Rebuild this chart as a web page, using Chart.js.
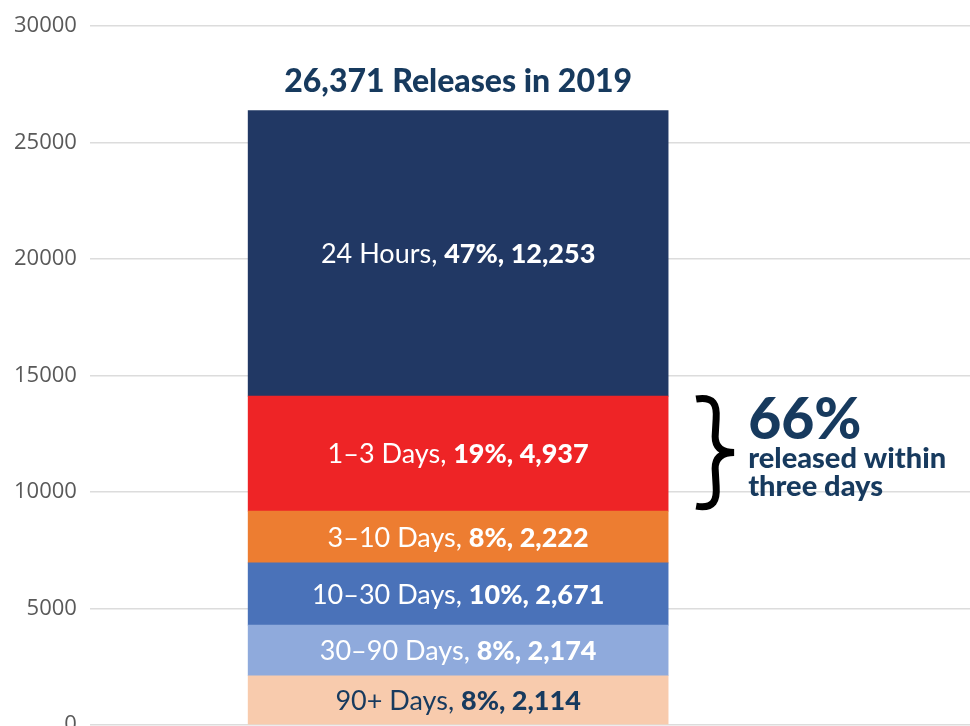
<!DOCTYPE html>
<html lang="en">
<head>
    <meta charset="UTF-8">
    <title>Releases in 2019</title>
    <script src="https://cdn.jsdelivr.net/npm/chart.js"></script>
    <style>
        html, body { margin: 0; padding: 0; background: #ffffff; }
        #wrap { width: 970px; height: 726px; }
    </style>
</head>
<body>
    <div id="wrap"><canvas id="releaseChart" width="970" height="726"></canvas></div>
    <script>
        // stacked from the bottom up
        const categories = ['90+ Days', '30\u201390 Days', '10\u201330 Days', '3\u201310 Days', '1\u20133 Days', '24 Hours'];
        const releases = [2114, 2174, 2671, 2222, 4937, 12253];
        const shares = [8, 8, 10, 8, 19, 47];
        const segmentColors = ['#f8cbad', '#8faadc', '#4a72b9', '#ed7d31', '#ee2426', '#213864'];
        const labelColors = ['#173a5e', '#ffffff', '#ffffff', '#ffffff', '#ffffff', '#ffffff'];
        const year = 2019;
        const totalReleases = 26371;
        const withinThreeDays = 66;

        const navy = '#173a5e';

        function fmt(n) {
            return n.toLocaleString('en-US');
        }

        const labelPlugin = {
            id: 'segmentLabels',
            afterDatasetsDraw(chart) {
                const ctx = chart.ctx;
                ctx.save();
                ctx.textBaseline = 'middle';
                ctx.textAlign = 'left';
                chart.data.datasets.forEach((ds, i) => {
                    const el = chart.getDatasetMeta(i).data[0];
                    const cy = (el.y + el.base) / 2 + 1;
                    const regular = categories[i] + ', ';
                    const bold = shares[i] + '%, ' + fmt(releases[i]);
                    ctx.font = '400 27px Lato';
                    const w1 = ctx.measureText(regular).width;
                    ctx.font = '900 27px Lato';
                    const w2 = ctx.measureText(bold).width;
                    const x0 = el.x - (w1 + w2) / 2;
                    ctx.fillStyle = labelColors[i];
                    ctx.font = '400 27px Lato';
                    ctx.fillText(regular, x0, cy);
                    ctx.font = '900 27px Lato';
                    ctx.fillText(bold, x0 + w1, cy);
                });

                // title above the bar
                const top = chart.getDatasetMeta(categories.length - 1).data[0];
                ctx.fillStyle = navy;
                ctx.textAlign = 'center';
                ctx.font = '900 32px Lato';
                ctx.fillText(fmt(totalReleases) + ' Releases in ' + year, top.x, top.y - 29);

                // brace next to the 1-3 days segment
                const red = chart.getDatasetMeta(4).data[0];
                const bx = red.x + red.width / 2 + 28;
                const y0 = red.y + 1, y1 = red.base - 3;
                const ym = (y0 + y1) / 2;
                ctx.strokeStyle = '#000000';
                ctx.lineWidth = 7;
                ctx.lineCap = 'butt';
                ctx.beginPath();
                ctx.moveTo(bx, y0 + 2);
                ctx.bezierCurveTo(bx + 18, y0 - 1, bx + 21, y0 + 8, bx + 20, y0 + 22);
                ctx.lineTo(bx + 19, ym - 16);
                ctx.bezierCurveTo(bx + 19, ym - 4, bx + 27, ym, bx + 38, ym);
                ctx.bezierCurveTo(bx + 27, ym, bx + 19, ym + 4, bx + 19, ym + 16);
                ctx.lineTo(bx + 20, y1 - 22);
                ctx.bezierCurveTo(bx + 21, y1 - 8, bx + 18, y1 + 1, bx, y1 - 2);
                ctx.stroke();

                // callout text
                const tx = red.x + red.width / 2 + 80;
                ctx.textAlign = 'left';
                ctx.textBaseline = 'alphabetic';
                ctx.fillStyle = navy;
                ctx.font = '900 57px Lato';
                ctx.fillText(withinThreeDays + '%', tx, ym - 14);
                ctx.font = '900 29px Lato';
                ctx.fillText('released within', tx, ym + 15);
                ctx.fillText('three days', tx, ym + 43);
                ctx.restore();
            }
        };

        const datasets = categories.map((name, i) => ({
            label: name,
            data: [{ x: year, y: releases[i] }],
            backgroundColor: segmentColors[i],
            borderWidth: 0,
            barThickness: 420
        }));

        new Chart(document.getElementById('releaseChart'), {
            type: 'bar',
            data: { datasets: datasets },
            options: {
                responsive: false,
                animation: false,
                maintainAspectRatio: false,
                layout: { padding: { top: 26, left: 1, right: 0, bottom: 1 } },
                plugins: {
                    legend: { display: false },
                    tooltip: { enabled: false }
                },
                scales: {
                    x: {
                        type: 'linear',
                        stacked: true,
                        offset: false,
                        min: year - 0.5,
                        max: year + 0.695,
                        display: false
                    },
                    y: {
                        stacked: true,
                        min: 0,
                        max: 30000,
                        border: { display: false },
                        grid: { color: '#dcdcdc', lineWidth: 1.5, drawTicks: false },
                        ticks: {
                            stepSize: 5000,
                            padding: 13,
                            color: '#595959',
                            font: { family: 'Open Sans', size: 22 },
                            callback: (v) => String(v)
                        },
                        afterFit(scale) {
                            scale.paddingBottom = 0;
                            scale.paddingTop = 0;
                        }
                    }
                }
            },
            plugins: [labelPlugin]
        });
    </script>
</body>
</html>
